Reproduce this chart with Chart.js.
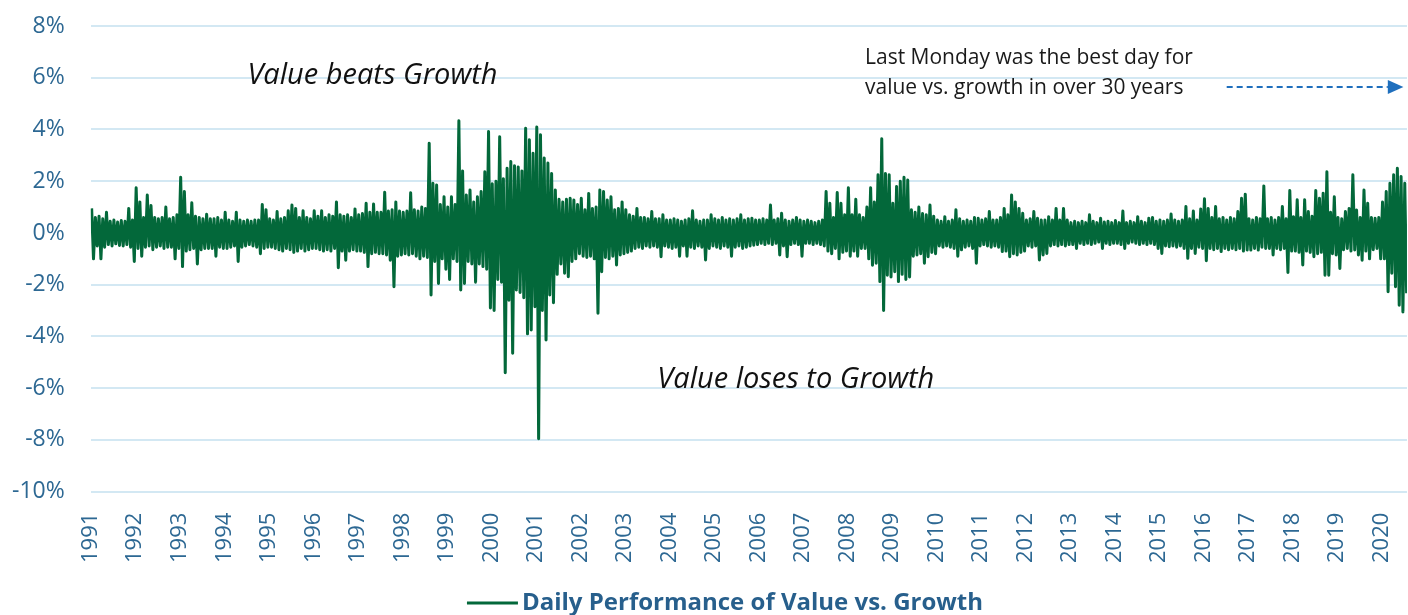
<!DOCTYPE html>
<html><head><meta charset="utf-8">
<script src="https://cdn.jsdelivr.net/npm/chart.js@4/dist/chart.umd.min.js"></script>
<style>html,body{margin:0;padding:0;background:#fff;overflow:hidden}#wrap{width:1408px;height:615px;position:relative}</style>
</head><body><div id="wrap"><canvas id="c" width="1408" height="615"></canvas></div>
<script>
// ---- data (percent), half-month swings: [high, low, high, low, ...] ----
const years = [1991,1992,1993,1994,1995,1996,1997,1998,1999,2000,2001,2002,2003,2004,2005,2006,2007,2008,2009,2010,2011,2012,2013,2014,2015,2016,2017,2018,2019,2020];
const yTicks = [-10,-8,-6,-4,-2,0,2,4,6,8];
const d1991 = [0.95,-1.0, 0.6,-0.5, 0.65,-1.0, 0.55,-0.55, 0.8,-0.45, 0.45,-0.5, 0.5,-0.42, 0.42,-0.48, 0.48,-0.5, 0.45,-0.45, 0.95,-0.55, 0.5,-1.1];
const d1992 = [1.75,-0.6, 1.2,-0.9, 0.6,-0.55, 1.47,-0.5, 1.06,-0.65, 0.6,-0.55, 0.55,-0.5, 0.6,-0.6, 1.0,-0.55, 0.55,-0.55, 0.6,-1.0, 0.7,-0.6];
const d1993 = [2.15,-1.3, 1.6,-0.7, 0.7,-0.65, 1.17,-0.6, 0.65,-1.2, 0.6,-0.65, 0.55,-0.6, 0.72,-0.6, 0.55,-0.6, 0.55,-0.9, 0.6,-0.55, 0.5,-0.6];
const d1994 = [0.8,-0.6, 0.5,-0.55, 0.45,-0.5, 0.8,-1.1, 0.5,-0.55, 0.45,-0.5, 0.5,-0.45, 0.45,-0.5, 0.5,-0.55, 0.5,-0.8, 1.1,-0.6, 0.9,-0.55];
const d1995 = [0.55,-0.55, 0.5,-0.6, 0.83,-0.65, 0.55,-0.7, 0.6,-0.6, 0.86,-0.65, 1.08,-0.75, 0.95,-0.7, 0.6,-0.6, 0.86,-0.7, 0.6,-0.65, 0.55,-0.6];
const d1996 = [0.86,-0.6, 0.65,-0.65, 0.86,-0.7, 0.6,-0.65, 0.7,-0.7, 0.65,-0.6, 1.2,-1.34, 0.7,-0.7, 0.65,-1.05, 0.7,-0.7, 0.6,-0.65, 0.93,-0.7];
const d1997 = [0.7,-0.7, 0.75,-0.75, 1.15,-1.3, 0.8,-0.8, 1.12,-0.75, 0.8,-0.8, 0.8,-0.8, 1.57,-0.85, 0.85,-1.05, 0.9,-2.08, 1.2,-0.9, 0.85,-0.85];
const d1998 = [0.8,-0.8, 0.85,-0.85, 1.55,-0.8, 0.9,-0.9, 0.85,-1.0, 1.0,-0.9, 0.95,-0.95, 3.47,-2.4, 1.92,-1.1, 1.85,-1.95, 1.1,-1.0, 1.4,-1.4];
const d1999 = [1.0,-1.8, 1.4,-1.0, 1.1,-1.1, 4.34,-2.2, 2.4,-1.95, 1.47,-1.1, 1.66,-1.2, 1.2,-1.9, 1.4,-1.2, 1.6,-1.3, 2.37,-1.4, 3.92,-2.9];
const d2000 = [1.9,-3.0, 2.0,-1.8, 3.72,-1.9, 2.1,-5.4, 2.5,-2.6, 2.76,-4.65, 2.6,-2.2, 2.55,-2.3, 2.4,-2.5, 4.05,-3.9, 3.6,-3.75, 3.08,-2.85];
const d2001 = [4.1,-7.95, 3.8,-3.0, 2.9,-4.14, 2.7,-2.4, 2.3,-2.7, 1.66,-1.6, 1.3,-1.2, 1.2,-1.56, 1.3,-1.69, 1.34,-1.1, 1.27,-1.0, 1.1,-0.8];
const d2002 = [1.34,-0.9, 0.9,-0.95, 1.53,-0.9, 0.95,-1.0, 1.0,-3.1, 1.66,-1.5, 1.6,-0.95, 1.27,-1.0, 1.4,-0.9, 0.9,-1.24, 0.95,-0.85, 1.2,-0.8];
const d2003 = [0.9,-0.75, 0.7,-0.7, 0.65,-0.6, 0.95,-0.55, 0.6,-0.6, 0.6,-0.5, 0.55,-0.55, 0.83,-0.5, 0.55,-0.55, 0.55,-0.92, 0.7,-0.5, 0.5,-0.55];
const d2004 = [0.5,-0.6, 0.55,-0.55, 0.5,-0.9, 0.45,-0.5, 0.5,-0.9, 0.55,-0.55, 0.86,-0.6, 0.5,-0.5, 0.45,-0.55, 0.5,-1.04, 0.5,-0.6, 0.7,-0.5];
const d2005 = [0.55,-0.55, 0.5,-0.6, 0.6,-0.5, 0.5,-0.55, 0.55,-0.9, 0.5,-0.55, 0.55,-0.5, 0.7,-0.6, 0.5,-0.55, 0.55,-0.5, 0.57,-0.47, 0.5,-0.45];
const d2006 = [0.5,-0.4, 0.55,-0.45, 0.5,-0.4, 1.08,-0.45, 0.5,-0.4, 0.55,-0.85, 0.76,-0.5, 0.5,-0.92, 0.45,-0.45, 0.5,-0.4, 0.6,-0.45, 0.5,-0.9];
const d2007 = [0.45,-0.4, 0.5,-0.4, 0.45,-0.45, 0.4,-0.4, 0.45,-0.45, 0.5,-0.5, 1.6,-0.7, 1.15,-0.8, 0.6,-0.6, 1.56,-1.0, 1.15,-0.75, 0.7,-0.7];
const d2008 = [1.75,-0.9, 0.7,-0.7, 1.3,-0.9, 0.7,-0.6, 0.6,-0.6, 1.0,-1.0, 1.75,-1.25, 1.2,-1.17, 2.25,-1.88, 3.64,-3.0, 2.3,-1.63, 2.25,-1.7];
const d2009 = [1.15,-1.5, 1.8,-1.88, 2.0,-1.6, 2.15,-1.8, 2.05,-1.7, 0.9,-0.9, 0.8,-0.85, 1.0,-0.8, 0.75,-1.17, 0.7,-0.92, 1.08,-0.75, 0.65,-0.8];
const d2010 = [0.5,-0.5, 0.45,-0.55, 0.63,-0.5, 0.45,-0.55, 0.5,-0.6, 0.9,-0.9, 0.55,-0.65, 0.45,-0.55, 0.5,-0.5, 0.45,-0.6, 0.6,-1.17, 0.57,-0.5];
const d2011 = [0.5,-0.45, 0.55,-0.5, 0.83,-0.55, 0.5,-0.5, 0.5,-0.55, 0.6,-0.72, 0.95,-0.7, 0.7,-0.92, 1.47,-0.8, 1.2,-0.85, 0.95,-0.75, 0.76,-0.7];
const d2012 = [0.5,-0.5, 0.55,-0.55, 0.83,-0.5, 0.57,-1.04, 0.5,-0.85, 0.5,-0.79, 0.63,-0.5, 0.5,-0.45, 0.95,-0.5, 0.5,-0.45, 0.95,-0.5, 0.5,-0.45];
const d2013 = [0.4,-0.45, 0.45,-0.6, 0.4,-0.4, 0.45,-0.45, 0.4,-0.4, 0.7,-0.45, 0.45,-0.4, 0.4,-0.35, 0.57,-0.6, 0.42,-0.4, 0.45,-0.45, 0.4,-0.4];
const d2014 = [0.48,-0.4, 0.4,-0.45, 0.85,-0.6, 0.4,-0.4, 0.45,-0.35, 0.4,-0.4, 0.63,-0.45, 0.45,-0.4, 0.4,-0.45, 0.57,-0.4, 0.6,-0.45, 0.45,-0.6];
const d2015 = [0.5,-0.79, 0.45,-0.5, 0.5,-0.53, 0.73,-0.5, 0.5,-0.55, 0.45,-0.5, 0.5,-0.6, 1.02,-0.98, 0.55,-0.6, 0.85,-0.79, 0.5,-0.55, 0.93,-0.6];
const d2016 = [1.32,-1.07, 0.95,-0.6, 0.6,-0.65, 1.02,-0.6, 0.55,-0.72, 0.6,-0.6, 0.5,-0.65, 0.6,-0.6, 0.55,-0.65, 0.83,-0.6, 1.34,-0.7, 1.5,-0.66];
const d2017 = [0.55,-0.66, 0.5,-0.6, 0.6,-0.66, 0.55,-0.55, 1.82,-0.6, 0.55,-0.6, 0.6,-0.85, 0.5,-0.6, 0.6,-0.65, 1.02,-0.6, 0.55,-1.53, 1.64,-0.7];
const d2018 = [0.63,-0.7, 1.28,-0.75, 0.6,-1.24, 1.28,-0.7, 0.83,-0.75, 0.65,-0.92, 1.64,-0.8, 1.34,-0.75, 1.54,-1.63, 2.37,-1.63, 0.8,-0.8, 1.4,-0.85];
const d2019 = [0.6,-1.37, 0.55,-0.65, 0.83,-0.6, 0.95,-0.7, 2.25,-0.66, 0.89,-0.85, 0.6,-1.05, 1.66,-0.7, 1.15,-1.0, 0.6,-0.65, 0.57,-0.6, 0.6,-1.0];
const d2020 = [1.2,-1.0, 1.6,-2.27, 1.92,-1.56, 2.25,-2.08, 2.5,-2.79, 2.18,-3.05, 1.92,-2.33];
const yearlySeries = [d1991,d1992,d1993,d1994,d1995,d1996,d1997,d1998,d1999,d2000,d2001,d2002,d2003,d2004,d2005,d2006,d2007,d2008,d2009,d2010,d2011,d2012,d2013,d2014,d2015,d2016,d2017,d2018,d2019,d2020];
const seriesName = 'Daily Performance of Value vs. Growth';
const noteUp = 'Value beats Growth';
const noteDown = 'Value loses to Growth';
const noteBest = ['Last Monday was the best day for', 'value vs. growth in over 30 years'];

// ---- build points: each value sits at its half-month slot within its year ----
const points = [];
yearlySeries.forEach((arr, yi) => {
  arr.forEach((v, i) => points.push({ x: years[yi] + (i + 0.5) / 24, y: v }));
});

const GREEN = '#03683a';
const TICK = '#2d6893';

const notesPlugin = {
  id: 'notes',
  afterDraw(chart) {
    const { ctx, scales: { x, y } } = chart;
    ctx.save();
    ctx.textBaseline = 'middle';
    ctx.textAlign = 'left';
    ctx.fillStyle = '#111';
    ctx.font = 'italic 29px "Open Sans"';
    ctx.fillText(noteUp, x.getPixelForValue(1994.52), y.getPixelForValue(6.07));
    ctx.fillText(noteDown, x.getPixelForValue(2003.73), y.getPixelForValue(-5.69));
    ctx.font = '21px "Open Sans"';
    ctx.fillStyle = '#1a1a1a';
    ctx.fillText(noteBest[0], x.getPixelForValue(2008.395), y.getPixelForValue(6.77));
    ctx.fillText(noteBest[1], x.getPixelForValue(2008.395), y.getPixelForValue(5.61));
    // dashed arrow
    const ay = y.getPixelForValue(5.64);
    const ax0 = x.getPixelForValue(2016.52), ax1 = x.getPixelForValue(2020.14), ax2 = x.getPixelForValue(2020.49);
    ctx.strokeStyle = '#1f6fbd';
    ctx.lineWidth = 2;
    ctx.setLineDash([6, 4]);
    ctx.beginPath(); ctx.moveTo(ax0, ay); ctx.lineTo(ax1, ay); ctx.stroke();
    ctx.setLineDash([]);
    ctx.fillStyle = '#1f6fbd';
    ctx.beginPath(); ctx.moveTo(ax1, ay - 7); ctx.lineTo(ax2, ay); ctx.lineTo(ax1, ay + 7); ctx.closePath(); ctx.fill();
    // legend
    ctx.font = 'bold 24px "Open Sans"';
    const tw = ctx.measureText(seriesName).width;
    const total = 51 + 4 + tw;
    const lx = 725 - total / 2, ly = chart.height - 12;
    ctx.strokeStyle = GREEN; ctx.lineWidth = 3;
    ctx.beginPath(); ctx.moveTo(lx, ly); ctx.lineTo(lx + 51, ly); ctx.stroke();
    ctx.fillStyle = '#275f8c';
    ctx.fillText(seriesName, lx + 55, ly);
    ctx.restore();
  }
};

new Chart(document.getElementById('c'), {
  type: 'line',
  data: {
    datasets: [{
      label: seriesName,
      data: points,
      borderColor: GREEN,
      backgroundColor: GREEN,
      borderWidth: 3,
      borderJoinStyle: 'round',
      pointRadius: 0,
      tension: 0,
      fill: false
    }]
  },
  options: {
    responsive: false,
    devicePixelRatio: 1,
    animation: false,
    parsing: false,
    layout: { padding: { left: 12, right: 0, top: 26, bottom: 52 } },
    plugins: { legend: { display: false }, tooltip: { enabled: false } },
    scales: {
      x: {
        type: 'linear',
        min: years[0],
        max: 2020.57,
        afterBuildTicks: (axis) => { axis.ticks = years.map(v => ({ value: v })); },
        grid: { display: true, drawOnChartArea: false, drawTicks: true, tickLength: 21, tickColor: 'rgba(0,0,0,0)', color: 'rgba(0,0,0,0)' },
        border: { display: false },
        ticks: {
          autoSkip: false, minRotation: 90, maxRotation: 90, padding: 0,
          color: TICK, font: { family: 'Open Sans', size: 22 },
          callback: (v) => String(v)
        }
      },
      y: {
        type: 'linear',
        min: yTicks[0],
        max: yTicks[yTicks.length - 1],
        afterBuildTicks: (axis) => { axis.ticks = yTicks.map(v => ({ value: v })); },
        grid: { color: '#d3e8f3', lineWidth: 2, drawTicks: true, tickLength: 26, tickColor: 'rgba(0,0,0,0)' },
        border: { display: false },
        ticks: {
          padding: 0, color: TICK, font: { family: 'Open Sans', size: 23 },
          callback: (v) => v + '%'
        }
      }
    }
  },
  plugins: [notesPlugin]
});
</script>
</body></html>
